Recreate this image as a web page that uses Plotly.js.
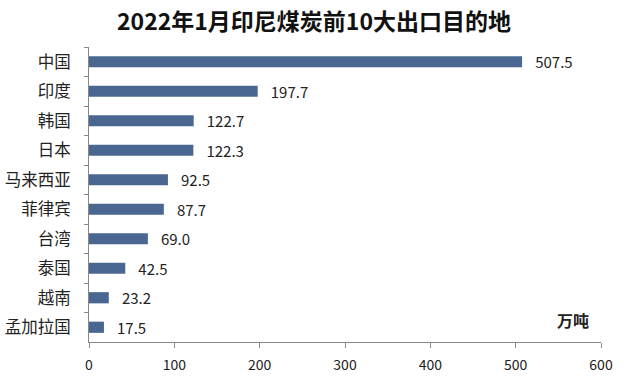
<!DOCTYPE html>
<html><head><meta charset="utf-8">
<script src="https://cdn.plot.ly/plotly-3.0.1.min.js"></script>
<style>html,body{margin:0;padding:0;background:#fff}</style>
</head><body>
<div id="chart" style="width:628px;height:381px"></div>
<script>
const countries = ["中国","印度","韩国","日本","马来西亚","菲律宾","台湾","泰国","越南","孟加拉国"];
const exports = [507.5,197.7,122.7,122.3,92.5,87.7,69.0,42.5,23.2,17.5];
const xTicks = [0,100,200,300,400,500,600];
const font = '"Noto Sans CJK SC", "Noto Sans", sans-serif';

Plotly.newPlot('chart', [{
  type: 'bar', orientation: 'h',
  x: exports, y: countries,
  marker: {color: '#4a6791'},
  width: 0.38,
  text: exports.map(v => '\u00a0\u00a0\u00a0' + v.toFixed(1)),
  textposition: 'outside',
  constraintext: 'none',
  cliponaxis: false,
  textfont: {family: font, size: 15, color: '#222'},
  hoverinfo: 'none'
}], {
  width: 628, height: 381,
  margin: {l: 89, r: 27, t: 47, b: 39},
  paper_bgcolor: '#fff', plot_bgcolor: '#fff',
  font: {family: font, size: 14, color: '#222'},
  title: {text: '<b>2022年1月印尼煤炭前10大出口目的地</b>', x: 0.5, xanchor: 'center', y: 0.942, yanchor: 'middle', font: {family: font, size: 23, color: '#111'}},
  xaxis: {range: [0, 600], tickvals: xTicks, ticks: 'outside', ticklen: 5, tickcolor: '#888',
    showline: true, linecolor: '#888', showgrid: false, zeroline: false, fixedrange: true, ticklabelstandoff: 5,
    tickfont: {size: 14, color: '#222'}},
  yaxis: {autorange: 'reversed', type: 'category', ticks: 'outside', tickson: 'boundaries', ticklen: 4, tickcolor: '#888',
    showline: true, linecolor: '#888', showgrid: false, fixedrange: true, ticklabelstandoff: 14,
    tickfont: {size: 16.5, color: '#222'}},
  annotations: [{text: '<b>万吨</b>', xref: 'paper', yref: 'paper', x: 0.945, y: 0.075, xanchor: 'center', yanchor: 'middle', showarrow: false, font: {size: 16, color: '#222'}}],
  showlegend: false
}, {displayModeBar: false, staticPlot: true});
</script>
</body></html>
